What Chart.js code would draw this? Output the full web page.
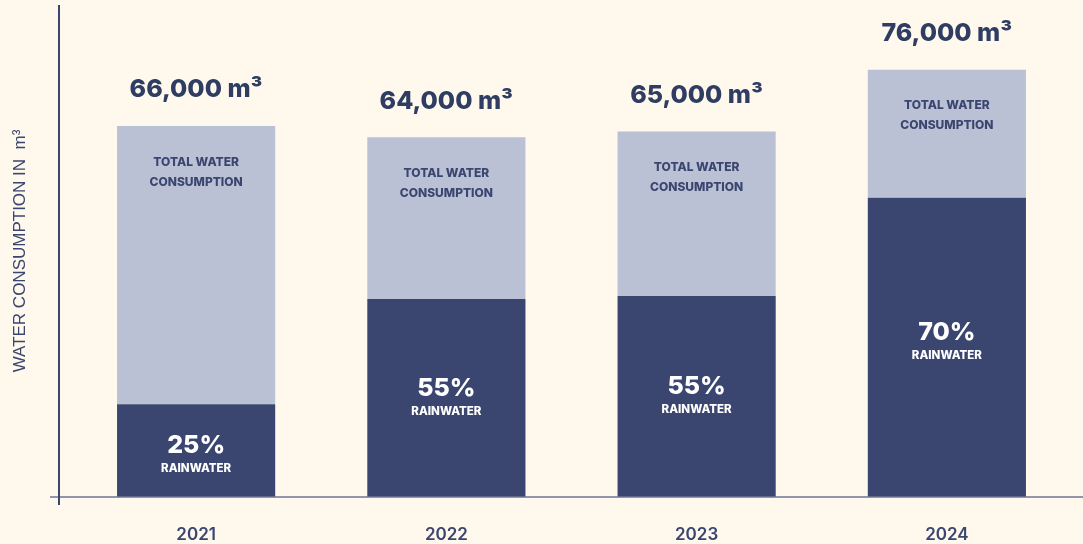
<!DOCTYPE html>
<html>
<head>
<meta charset="utf-8">
<script src="https://cdn.jsdelivr.net/npm/chart.js@4.4.1/dist/chart.umd.min.js"></script>
<style>
  html, body { margin: 0; padding: 0; background: #fff8ec; }
  #wrap { width: 1083px; height: 544px; }
</style>
</head>
<body>
<div id="wrap"><canvas id="myChart" width="1083" height="544"></canvas></div>
<script>
// data
const years = ["2021", "2022", "2023", "2024"];
const totals = [66000, 64000, 65000, 76000];
const rainPct = [25, 55, 55, 70];

const rainwater = totals.map((t, i) => t * rainPct[i] / 100);
const rest = totals.map((t, i) => t - rainwater[i]);

const dark = "#3b4670";
const light = "#bbc1d4";
const ink = "#2f3d63";
const fam = "Inter, 'Liberation Sans', Arial, sans-serif";
const fam2 = "'Liberation Sans', Arial, sans-serif";

// labels + axis lines
const decor = {
    id: "decor",
    afterDatasetsDraw(chart) {
        const ctx = chart.ctx;
        const area = chart.chartArea;
        const y0 = chart.scales.y.getPixelForValue(0);
        const rainMeta = chart.getDatasetMeta(0);
        const restMeta = chart.getDatasetMeta(1);
        ctx.save();

        // axis lines
        ctx.strokeStyle = "#6f7696";
        ctx.lineWidth = 1.5;
        ctx.beginPath();
        ctx.moveTo(area.left - 21, y0);
        ctx.lineTo(chart.width, y0);
        ctx.stroke();
        ctx.strokeStyle = dark;
        ctx.lineWidth = 2;
        ctx.beginPath();
        ctx.moveTo(area.left - 12, area.top);
        ctx.lineTo(area.left - 12, y0 + 8);
        ctx.stroke();

        ctx.textAlign = "center";
        ctx.textBaseline = "middle";
        for (let i = 0; i < years.length; i++) {
            const r = rainMeta.data[i];
            const t = restMeta.data[i];
            // total label above bar
            ctx.fillStyle = ink;
            ctx.font = "800 25px " + fam;
            ctx.fillText(totals[i].toLocaleString("en-US") + " m³", t.x, t.y - 36);
            // light segment label
            ctx.fillStyle = dark;
            ctx.font = "800 12px " + fam;
            ctx.fillText("TOTAL WATER", t.x, t.y + 36);
            ctx.fillText("CONSUMPTION", t.x, t.y + 56);
            // dark segment label
            const py = r.y + 0.45 * (r.base - r.y);
            ctx.fillStyle = "#ffffff";
            ctx.font = "800 25px " + fam;
            ctx.fillText(rainPct[i] + "%", r.x, py);
            ctx.font = "800 11.5px " + fam;
            ctx.fillText("RAINWATER", r.x, py + 23);
            // year label
            ctx.fillStyle = dark;
            ctx.font = "600 17px " + fam;
            ctx.fillText(years[i], r.x, y0 + 38);
        }

        // y axis title
        ctx.translate(20, 251);
        ctx.rotate(-Math.PI / 2);
        ctx.fillStyle = dark;
        ctx.font = "17px " + fam2;
        ctx.fillText("WATER CONSUMPTION IN  m³", 0, 0);
        ctx.restore();
    }
};

const ctx = document.getElementById("myChart").getContext("2d");
const chart = new Chart(ctx, {
    type: "bar",
    data: {
        labels: years,
        datasets: [
            { label: "Rainwater", data: rainwater, backgroundColor: dark, barPercentage: 0.632, categoryPercentage: 1 },
            { label: "Total water consumption", data: rest, backgroundColor: light, barPercentage: 0.632, categoryPercentage: 1 }
        ]
    },
    options: {
        responsive: false,
        animation: false,
        layout: { padding: { left: 71, right: 11, top: 5, bottom: 47 } },
        plugins: { legend: { display: false }, tooltip: { enabled: false } },
        scales: {
            x: {
                stacked: true,
                grid: { display: false, drawTicks: false },
                border: { display: false },
                ticks: { display: false }
            },
            y: {
                stacked: true,
                display: false,
                min: 0,
                max: 87500
            }
        }
    },
    plugins: [decor]
});
</script>
</body>
</html>
